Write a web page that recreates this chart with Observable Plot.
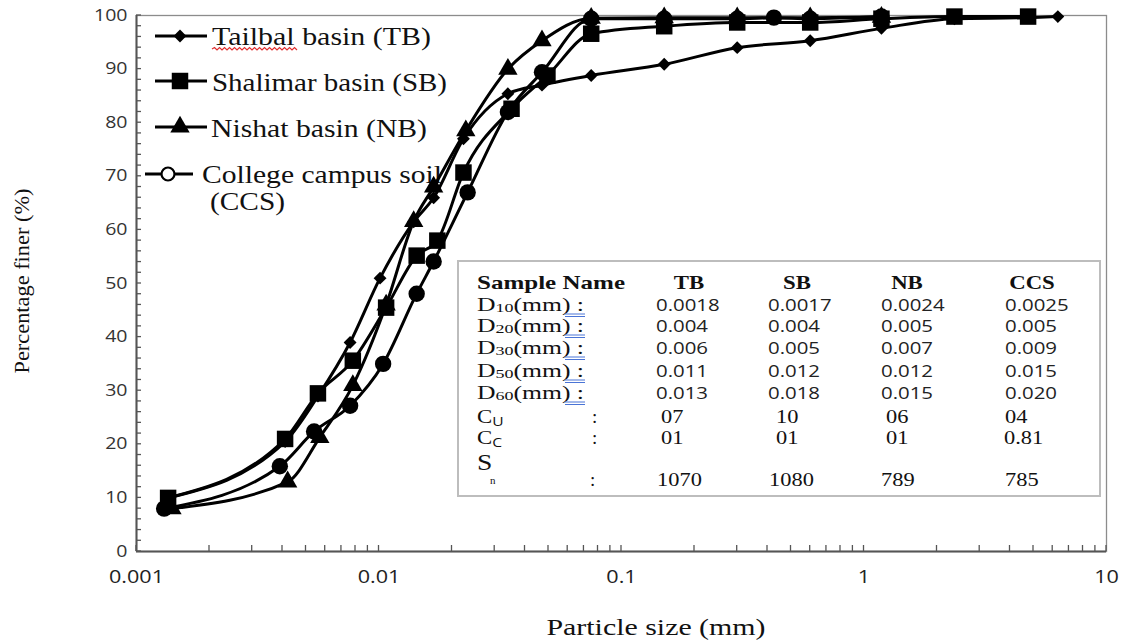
<!DOCTYPE html>
<html><head><meta charset="utf-8">
<script src="https://cdn.jsdelivr.net/npm/d3@7"></script>
<script src="https://cdn.jsdelivr.net/npm/@observablehq/plot@0.6"></script>
<style>
body{margin:0;background:#fff;}
#chart{width:1122px;height:643px;}
</style></head><body><div id="chart"></div>
<script>
// ---- data (particle size in mm, percentage finer) ----
const tbSize  = [0.00135, 0.0041, 0.0056, 0.0076, 0.0101, 0.0139, 0.0168, 0.0223, 0.034, 0.047, 0.075, 0.15, 0.3, 0.6, 1.18, 2.36, 4.75, 6.3];
const tbFiner = [10, 20.5, 29, 39, 51, 61.5, 66, 77, 85.4, 87, 88.8, 90.9, 94, 95.3, 97.6, 99.4, 99.6, 99.8];
const sbSize  = [0.00135, 0.0041, 0.0056, 0.0078, 0.0107, 0.0143, 0.0174, 0.0223, 0.0352, 0.0495, 0.075, 0.15, 0.3, 0.6, 1.18, 2.36, 4.75];
const sbFiner = [10, 21, 29.5, 35.6, 45.5, 55.2, 58, 70.7, 82.6, 88.8, 96.6, 98, 98.7, 98.7, 99.4, 99.8, 99.8];
const nbSize  = [0.0014, 0.0042, 0.0057, 0.0078, 0.0107, 0.0139, 0.0168, 0.0228, 0.034, 0.047, 0.075, 0.15, 0.3, 0.6, 1.18];
const nbFiner = [8, 13, 21.3, 31, 46, 61.6, 68, 78.5, 90, 95.3, 99.5, 99.6, 99.6, 99.6, 99.7];
const ccsSize  = [0.0013, 0.0039, 0.0054, 0.0076, 0.0104, 0.0143, 0.0168, 0.0232, 0.034, 0.047, 0.075, 0.15, 0.3, 0.425, 0.6, 1.18];
const ccsFiner = [8, 15.9, 22.4, 27.2, 35, 48.1, 54.1, 67, 82, 89.4, 99.4, 99.4, 99.4, 99.6, 99.4, 99.8];

const seriesKeys  = ["TB", "SB", "NB", "CCS"];
const seriesNames = ["Tailbal basin (TB)", "Shalimar basin (SB)", "Nishat basin (NB)", "College campus soil"];
const seriesSub   = ["", "", "", "(CCS)"];

const xTickValues = [0.001, 0.01, 0.1, 1, 10];
const xTickLabels = ["0.001", "0.01", "0.1", "1", "10"];
const yTickLabels = [0, 10, 20, 30, 40, 50, 60, 70, 80, 90, 100];
const xTitle = "Particle size (mm)";
const yTitle = "Percentage finer (%)";

// table
const tableHeader = ["Sample Name", "TB", "SB", "NB", "CCS"];
const dRowSubs = ["10", "20", "30", "50", "60"];
const dRowValues = [
  ["0.0018", "0.0017", "0.0024", "0.0025"],
  ["0.004", "0.004", "0.005", "0.005"],
  ["0.006", "0.005", "0.007", "0.009"],
  ["0.011", "0.012", "0.012", "0.015"],
  ["0.013", "0.018", "0.015", "0.020"]
];
const cuValues = ["07", "10", "06", "04"];
const ccValues = ["01", "01", "01", "0.81"];
const snValues = ["1070", "1080", "789", "785"];

// ---- build ----
const rows = [];
[[tbSize, tbFiner], [sbSize, sbFiner], [nbSize, nbFiner], [ccsSize, ccsFiner]].forEach(([s, f], k) => {
  s.forEach((v, i) => rows.push({series: seriesKeys[k], size: v, finer: f[i]}));
});
const symbols = {TB: "diamond2", SB: "square", NB: "triangle", CCS: "circle"};
const radii = {TB: 5.8, SB: 9.3, NB: 7.2, CCS: 8.2};

const yTicks = d3.range(0, 101, 2);
const xAllTicks = [];
for (const dec of [0.001, 0.01, 0.1, 1]) for (let m = 1; m <= 9; m++) xAllTicks.push(+(dec * m).toPrecision(3));
xAllTicks.push(10);

const SANS = "'Open Sans','Liberation Sans',sans-serif";
const SERIF = "'Liberation Serif','Times New Roman',serif";

const plot = Plot.plot({
  width: 1122, height: 643,
  marginLeft: 136, marginRight: 16, marginTop: 15, marginBottom: 92,
  style: {background: "white", fontFamily: SANS},
  x: {type: "log", domain: [0.001, 10]},
  y: {domain: [0, 100]},
  marks: [
    Plot.frame({stroke: "#8c8c8c", strokeWidth: 1.3}),
    Plot.ruleX([0.001], {stroke: "#555", strokeWidth: 2}),
    Plot.ruleY([0], {stroke: "#555", strokeWidth: 2}),
    Plot.axisY({ticks: yTickLabels, tickSize: 0, tickPadding: 9, fill: "#333",
      tickFormat: d => String(d), fontSize: 16, fontFamily: SANS, label: null}),
    Plot.axisX({ticks: xTickValues, tickSize: 0, tickPadding: 19, fill: "#222",
      tickFormat: d => xTickLabels[xTickValues.indexOf(d)], fontSize: 18, fontFamily: SANS, label: null}),
    Plot.line(rows, {x: "size", y: "finer", z: "series", stroke: "black", strokeWidth: 3, curve: "monotone-x"}),
    ...seriesKeys.map(k => Plot.dot(rows.filter(d => d.series === k),
      {x: "size", y: "finer", symbol: symbols[k], r: radii[k], fill: "black", stroke: "none"}))
  ]
});
document.getElementById("chart").appendChild(plot);

function stretch(sel, k) {
  sel.each(function () {
    const w = this.getComputedTextLength();
    this.setAttribute("textLength", w * k);
    this.setAttribute("lengthAdjust", "spacingAndGlyphs");
  });
}
function fit(sel, w) { sel.attr("textLength", w).attr("lengthAdjust", "spacingAndGlyphs"); }

const svg = d3.select(plot);
stretch(svg.selectAll('g[aria-label="y-axis tick label"] text'), 1.22);
stretch(svg.selectAll('g[aria-label="x-axis tick label"] text'), 1.2);

// inward ticks, placed with the plot's own scales
const sx = plot.scale("x"), sy = plot.scale("y");
const x0 = sx.apply(0.001), y0 = sy.apply(0);
const tickG = d3.create("svg:g").attr("stroke", "#555").attr("stroke-width", 1.3);
plot.insertBefore(tickG.node(), plot.querySelector('g[aria-label="line"]'));
yTicks.forEach(v => {
  const y = sy.apply(v);
  tickG.append("line").attr("x1", x0).attr("x2", x0 + 5).attr("y1", y).attr("y2", y);
});
xAllTicks.forEach(v => {
  const x = sx.apply(v);
  tickG.append("line").attr("x1", x).attr("x2", x).attr("y1", y0).attr("y2", y0 - 6);
});

// axis titles
fit(svg.append("text").attr("x", 656).attr("y", 635).attr("text-anchor", "middle")
  .attr("font-family", SERIF).attr("font-size", 24).attr("fill", "#111").text(xTitle), 219);
fit(svg.append("text").attr("transform", "translate(29,281) rotate(-90)").attr("text-anchor", "middle")
  .attr("font-family", SERIF).attr("font-size", 21).attr("fill", "#111").text(yTitle), 185);

// legend (drawn beneath the curves)
const firstLine = plot.querySelector('g[aria-label="line"]');
const lg = d3.create("svg:g").attr("text-anchor", "start");
plot.insertBefore(lg.node(), firstLine);
const legendRows = [
  {lineY: 36, x1: 155, x2: 207, mx: 180, textX: 212, base: 45, w: 219},
  {lineY: 81, x1: 155, x2: 207, mx: 180, textX: 212, base: 91, w: 235},
  {lineY: 127, x1: 155, x2: 207, mx: 180, textX: 211, base: 137, w: 216},
  {lineY: 174, x1: 145, x2: 193, mx: 168, textX: 202, base: 183, w: 240}
];
const d3sym = {TB: d3.symbolDiamond2, SB: d3.symbolSquare, NB: d3.symbolTriangle, CCS: d3.symbolCircle};
legendRows.forEach((r, i) => {
  const k = seriesKeys[i];
  lg.append("line").attr("x1", r.x1).attr("x2", r.x2).attr("y1", r.lineY).attr("y2", r.lineY)
    .attr("stroke", "black").attr("stroke-width", 3);
  const open = k === "CCS";
  lg.append("path").attr("transform", `translate(${r.mx},${r.lineY})`)
    .attr("d", d3.symbol(d3sym[k], Math.PI * (open ? 6.5 : radii[k]) ** 2)())
    .attr("fill", open ? "white" : "black").attr("stroke", open ? "black" : "none").attr("stroke-width", 2.2);
  fit(lg.append("text").attr("x", r.textX).attr("y", r.base).attr("font-family", SERIF)
    .attr("font-size", 25).attr("fill", "#111").text(seriesNames[i]), r.w);
  if (seriesSub[i]) fit(lg.append("text").attr("x", 210).attr("y", 210).attr("font-family", SERIF)
    .attr("font-size", 25).attr("fill", "#111").text(seriesSub[i]), 75);
});
// spell-check squiggle under "Tailbal"
{
  let p = "M212,49";
  for (let x = 212, up = true; x < 296; x += 2.5, up = !up) p += `L${x + 2.5},${up ? 47.5 : 50}`;
  lg.append("path").attr("d", p).attr("fill", "none").attr("stroke", "#e03030").attr("stroke-width", 1.2);
}

// table box
const tb = svg.append("g").attr("text-anchor", "start");
tb.append("rect").attr("x", 458).attr("y", 261).attr("width", 642).attr("height", 235)
  .attr("fill", "white").attr("stroke", "#bdbdbd").attr("stroke-width", 2);
const colLeft = [656, 768, 881, 1005];
const colLeftInt = [661, 776, 886, 1005];
const colLeftSn = [657, 769, 881, 1005];
const headCenters = [689, 797, 907, 1032];
fit(tb.append("text").attr("x", 477).attr("y", 289).attr("font-family", SERIF).attr("font-weight", "bold")
  .attr("font-size", 19).attr("fill", "#111").text(tableHeader[0]), 148);
tableHeader.slice(1).forEach((h, i) => {
  stretch(tb.append("text").attr("x", headCenters[i]).attr("y", 289).attr("text-anchor", "middle")
    .attr("font-family", SERIF).attr("font-weight", "bold").attr("font-size", 19).attr("fill", "#111").text(h), 1.2);
});
const dBase = [311, 332, 354, 377, 399];
dRowSubs.forEach((sub, r) => {
  const t = tb.append("text").attr("x", 477).attr("y", dBase[r]).attr("font-family", SERIF)
    .attr("font-size", 18.5).attr("fill", "#111");
  t.append("tspan").text("D");
  t.append("tspan").attr("font-size", 13).attr("dy", 1).text(sub);
  t.append("tspan").attr("dy", -1).text("(mm) :");
  fit(t, 107);
  tb.append("line").attr("x1", 565).attr("x2", 585).attr("y1", dBase[r] + 3).attr("y2", dBase[r] + 3)
    .attr("stroke", "#4a74d6").attr("stroke-width", 1);
  tb.append("line").attr("x1", 565).attr("x2", 585).attr("y1", dBase[r] + 5.5).attr("y2", dBase[r] + 5.5)
    .attr("stroke", "#4a74d6").attr("stroke-width", 1);
  dRowValues[r].forEach((v, c) => {
    stretch(tb.append("text").attr("x", colLeft[c]).attr("y", dBase[r]).attr("font-family", SANS)
      .attr("font-size", 17).attr("fill", "#222").text(v), 1.2);
  });
});
[["U", cuValues, 423], ["C", ccValues, 444]].forEach(([sub, vals, base]) => {
  const t = tb.append("text").attr("x", 477).attr("y", base).attr("font-family", SERIF)
    .attr("font-size", 19).attr("fill", "#111");
  t.append("tspan").text("C");
  t.append("tspan").attr("font-size", 13).attr("dy", 3).attr("font-family", SANS).text(sub);
  stretch(t, 1.2);
  tb.append("text").attr("x", 592).attr("y", base).attr("font-family", SERIF).attr("font-size", 19).attr("fill", "#111").text(":");
  vals.forEach((v, c) => {
    stretch(tb.append("text").attr("x", c === 3 && v.includes(".") ? 1004 : colLeftInt[c]).attr("y", base)
      .attr("font-family", SERIF).attr("font-size", 19).attr("fill", "#111").text(v), 1.18);
  });
});
stretch(tb.append("text").attr("x", 477).attr("y", 470).attr("font-family", SERIF).attr("font-size", 24).attr("fill", "#111").text("S"), 1.15);
tb.append("text").attr("x", 490).attr("y", 484).attr("font-family", SERIF).attr("font-size", 11).attr("fill", "#111").text("n");
tb.append("text").attr("x", 590).attr("y", 486).attr("font-family", SERIF).attr("font-size", 19).attr("fill", "#111").text(":");
snValues.forEach((v, c) => {
  stretch(tb.append("text").attr("x", colLeftSn[c]).attr("y", 486).attr("font-family", SERIF)
    .attr("font-size", 19).attr("fill", "#111").text(v), 1.18);
});
</script></body></html>
